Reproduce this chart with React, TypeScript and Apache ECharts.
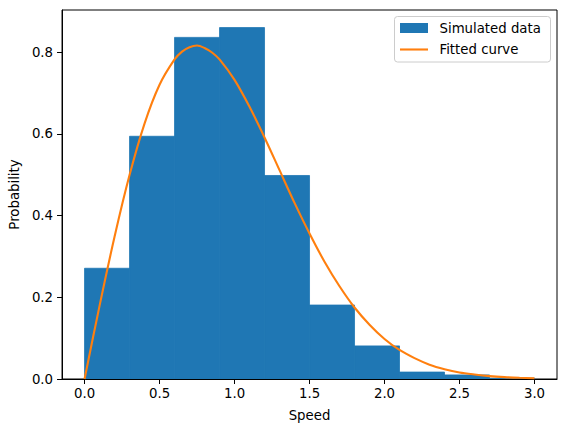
import React, { useEffect, useRef } from "react";
import * as echarts from "echarts";

const binEdges = [0, 0.3, 0.6, 0.9, 1.2, 1.5, 1.8, 2.1, 2.4, 2.7, 3.0];
const binHeights = [0.271, 0.594, 0.836, 0.86, 0.498, 0.181, 0.081, 0.017, 0.01, 0.002];

const curveX = [
  0, 0.1, 0.2, 0.3, 0.4, 0.5, 0.6, 0.65, 0.7, 0.75, 0.8, 0.85, 0.9, 1.0, 1.1, 1.2,
  1.3, 1.4, 1.5, 1.6, 1.7, 1.8, 1.9, 2.0, 2.1, 2.2, 2.3, 2.4, 2.5, 2.6, 2.7, 2.8,
  2.9, 3.0,
];
const curveY = [
  0, 0.179, 0.348, 0.499, 0.625, 0.72, 0.782, 0.801, 0.812, 0.816, 0.81, 0.799,
  0.782, 0.732, 0.666, 0.591, 0.511, 0.431, 0.356, 0.287, 0.227, 0.175, 0.133,
  0.098, 0.071, 0.051, 0.035, 0.024, 0.016, 0.011, 0.007, 0.0045, 0.003, 0.002,
];

const xTicks = [0, 0.5, 1.0, 1.5, 2.0, 2.5, 3.0];
const yTicks = [0, 0.2, 0.4, 0.6, 0.8];

const seriesNames = ["Simulated data", "Fitted curve"];
const xLabel = "Speed";
const yLabel = "Probability";

const FONT = "DejaVu Sans";
const FS = 13.3;

export default function App() {
  const ref = useRef<HTMLDivElement>(null);

  useEffect(() => {
    if (!ref.current) return;
    const chart = echarts.init(ref.current, undefined, { renderer: "svg" });

    const histData = binHeights.map((h, i) => [binEdges[i], binEdges[i + 1], h]);
    const lineData = curveX.map((x, i) => [x, curveY[i]]);

    chart.setOption({
      animation: false,
      backgroundColor: "#fff",
      grid: {
        left: 62,
        top: 10,
        right: 10,
        bottom: 53,
        show: true,
        borderColor: "#000",
        borderWidth: 1,
        backgroundColor: "transparent",
      },
      xAxis: {
        type: "value",
        min: -0.15,
        max: 3.15,
        name: xLabel,
        nameLocation: "middle",
        nameGap: 30,
        nameTextStyle: { fontFamily: FONT, fontSize: FS, color: "#000" },
        axisLine: { show: true, onZero: false, lineStyle: { color: "#000", width: 1 } },
        axisTick: {
          show: true,
          inside: false,
          length: 5,
          customValues: xTicks,
          lineStyle: { color: "#000", width: 1 },
        },
        axisLabel: {
          show: true,
          customValues: xTicks,
          margin: 8,
          formatter: (v: number) => v.toFixed(1),
          fontFamily: FONT,
          fontSize: FS,
          color: "#000",
        },
        splitLine: { show: false },
      },
      yAxis: {
        type: "value",
        min: 0,
        max: 0.903,
        name: yLabel,
        nameLocation: "middle",
        nameGap: 35,
        nameTextStyle: { fontFamily: FONT, fontSize: FS, color: "#000" },
        axisLine: { show: true, onZero: false, lineStyle: { color: "#000", width: 1 } },
        axisTick: {
          show: true,
          inside: false,
          length: 5,
          customValues: yTicks,
          lineStyle: { color: "#000", width: 1 },
        },
        axisLabel: {
          show: true,
          customValues: yTicks,
          margin: 9,
          formatter: (v: number) => v.toFixed(1),
          fontFamily: FONT,
          fontSize: FS,
          color: "#000",
        },
        splitLine: { show: false },
      },
      series: [
        {
          name: seriesNames[0],
          type: "custom",
          clip: true,
          encode: { x: [0, 1], y: 2 },
          data: histData,
          renderItem: (params: any, api: any) => {
            const p0 = api.coord([api.value(0), api.value(2)]);
            const p1 = api.coord([api.value(1), 0]);
            return {
              type: "rect",
              shape: { x: p0[0], y: p0[1], width: p1[0] - p0[0], height: p1[1] - p0[1] },
              style: { fill: "#1f77b4", stroke: "#1f77b4", lineWidth: 0.8 },
            };
          },
          z: 1,
        },
        {
          name: seriesNames[1],
          type: "line",
          data: lineData,
          smooth: 0.3,
          symbol: "none",
          lineStyle: { color: "#ff7f0e", width: 2.1 },
          z: 3,
        },
      ],
      graphic: [
        {
          type: "rect",
          shape: { x: 394.5, y: 16.5, width: 156, height: 45.5, r: 3 },
          style: { fill: "rgba(255,255,255,0.8)", stroke: "#cccccc", lineWidth: 1 },
          z: 10,
        },
        {
          type: "rect",
          shape: { x: 400, y: 23, width: 28, height: 10 },
          style: { fill: "#1f77b4" },
          z: 11,
        },
        {
          type: "line",
          shape: { x1: 400, y1: 49.5, x2: 428, y2: 49.5 },
          style: { stroke: "#ff7f0e", lineWidth: 2.1 },
          z: 11,
        },
        {
          type: "text",
          x: 439.5,
          y: 28.5,
          style: {
            text: seriesNames[0],
            fontFamily: FONT,
            fontSize: FS,
            fill: "#000",
            verticalAlign: "middle",
            align: "left",
          },
          z: 11,
        },
        {
          type: "text",
          x: 439.5,
          y: 49,
          style: {
            text: seriesNames[1],
            fontFamily: FONT,
            fontSize: FS,
            fill: "#000",
            verticalAlign: "middle",
            align: "left",
          },
          z: 11,
        },
      ],
    });

    return () => chart.dispose();
  }, []);

  return (
    <div
      ref={ref}
      style={{ position: "fixed", left: 0, top: 0, width: 567, height: 432, background: "#fff" }}
    />
  );
}
